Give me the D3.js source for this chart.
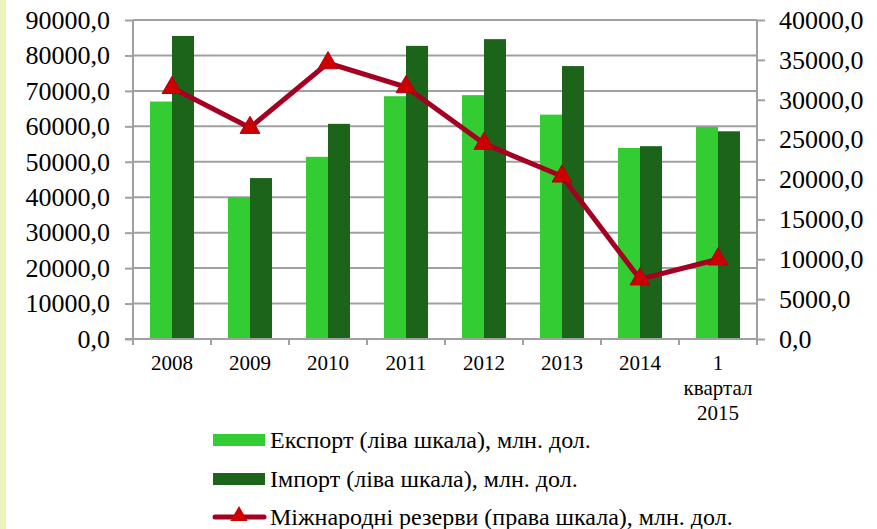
<!DOCTYPE html>
<html lang="uk">
<head>
    <meta charset="UTF-8">
    <title>Експорт, імпорт та міжнародні резерви</title>
    <script src="https://d3js.org/d3.v7.min.js"></script>
    <style>
        body { margin: 0; background: #fff; }
        svg text { font-family: "Liberation Serif", serif; fill: #000; }
        .grid line { stroke: #a0a0a0; stroke-width: 2px; }
        .axis path, .axis line { stroke: #a0a0a0; stroke-width: 2px; fill: none; }
    </style>
</head>
<body>
<svg width="877" height="529"></svg>
<script>
    // Data
    const categories = ["2008", "2009", "2010", "2011", "2012", "2013", "2014", "1\nквартал\n2015"];
    const exportVals = [67000, 40000, 51400, 68500, 68800, 63300, 53900, 59800];
    const importVals = [85500, 45400, 60700, 82700, 84600, 77000, 54400, 58600];
    const reserves = [31500, 26500, 34600, 31600, 24500, 20400, 7500, 10000];
    const leftTicks = [0, 10000, 20000, 30000, 40000, 50000, 60000, 70000, 80000, 90000];
    const rightTicks = [0, 5000, 10000, 15000, 20000, 25000, 30000, 35000, 40000];
    const legendLabels = [
        "Експорт (ліва шкала), млн. дол.",
        "Імпорт (ліва шкала), млн. дол.",
        "Міжнародні резерви (права шкала), млн. дол."
    ];

    const colExport = "#33cc33", colImport = "#1b6419", colLine = "#a50021", colMarker = "#cc0000";
    const serif = '"Liberation Serif", serif';

    const svg = d3.select("svg");

    // yellow strip on the left edge
    svg.append("rect").attr("x", 0).attr("y", 0).attr("width", 6).attr("height", 529).attr("fill", "#edf3bc");

    const pLeft = 133, pRight = 757, pTop = 20, pBottom = 339;

    const x = d3.scaleBand().domain(categories).range([pLeft, pRight]);
    const yL = d3.scaleLinear().domain([0, 90000]).range([pBottom, pTop]);
    const yR = d3.scaleLinear().domain([0, 40000]).range([pBottom, pTop]);
    const fmt = d => d3.format(".1f")(d).replace(".", ",");

    // gridlines
    svg.append("g").attr("class", "grid")
        .selectAll("line").data(leftTicks.filter(d => d > 0)).join("line")
        .attr("x1", pLeft).attr("x2", pRight)
        .attr("y1", d => yL(d)).attr("y2", d => yL(d));

    // bars
    const barW = 22;
    const g = svg.append("g");
    g.selectAll(".exp").data(categories).join("rect")
        .attr("x", d => x(d) + x.bandwidth() / 2 - barW)
        .attr("y", (d, i) => yL(exportVals[i]))
        .attr("width", barW)
        .attr("height", (d, i) => yL(0) - yL(exportVals[i]))
        .attr("fill", colExport);
    g.selectAll(".imp").data(categories).join("rect")
        .attr("x", d => x(d) + x.bandwidth() / 2)
        .attr("y", (d, i) => yL(importVals[i]))
        .attr("width", barW)
        .attr("height", (d, i) => yL(0) - yL(importVals[i]))
        .attr("fill", colImport);

    // left axis
    const axL = svg.append("g").attr("class", "axis")
        .attr("transform", "translate(" + pLeft + ",0)")
        .call(d3.axisLeft(yL).tickValues(leftTicks).tickFormat(fmt).tickSizeOuter(0).tickSize(8).tickPadding(15));
    axL.selectAll("text").style("font-family", serif).style("font-size", "26px");
    axL.select("path").attr("d", "M0," + pTop + "V" + (pBottom + 6));

    // right axis
    const axR = svg.append("g").attr("class", "axis")
        .attr("transform", "translate(" + pRight + ",0)")
        .call(d3.axisRight(yR).tickValues(rightTicks).tickFormat(fmt).tickSizeOuter(0).tickSize(8).tickPadding(14));
    axR.selectAll("text").style("font-family", serif).style("font-size", "26px");
    axR.select("path").attr("d", "M0," + pTop + "V" + (pBottom + 6));

    // bottom axis
    const axB = svg.append("g").attr("class", "axis")
        .attr("transform", "translate(0," + pBottom + ")");
    axB.append("line").attr("x1", pLeft - 8).attr("x2", pRight).attr("y1", 0).attr("y2", 0);
    axB.selectAll(".tk").data(categories.concat([null])).join("line")
        .attr("x1", (d, i) => pLeft + i * x.step()).attr("x2", (d, i) => pLeft + i * x.step())
        .attr("y1", 0).attr("y2", 6);
    axB.selectAll(".lbl").data(categories).join("text")
        .attr("text-anchor", "middle")
        .style("font-family", serif)
        .style("font-size", "21px")
        .attr("transform", d => "translate(" + (x(d) + x.bandwidth() / 2) + ",31)")
        .each(function(d) {
            const t = d3.select(this);
            d.split("\n").forEach((s, i) => t.append("tspan").attr("x", 0).attr("y", i * 25).text(s));
        });

    // reserves line
    const line = d3.line()
        .x((d, i) => x(categories[i]) + x.bandwidth() / 2)
        .y(d => yR(d));
    svg.append("path").datum(reserves)
        .attr("d", line)
        .attr("fill", "none")
        .attr("stroke", colLine)
        .attr("stroke-width", 5);
    const tri = d3.symbol().type(d3.symbolTriangle).size(170);
    svg.selectAll(".mk").data(reserves).join("path")
        .attr("d", tri)
        .attr("transform", (d, i) => "translate(" + (x(categories[i]) + x.bandwidth() / 2) + "," + yR(d) + ")")
        .attr("fill", colMarker)
        .attr("stroke", "#b00010")
        .attr("stroke-width", 1);

    // legend
    const lg = svg.append("g").attr("transform", "translate(213,0)");
    const rowsY = [440, 479, 517];
    lg.append("rect").attr("x", 0).attr("y", rowsY[0] - 6).attr("width", 52).attr("height", 12).attr("fill", colExport);
    lg.append("rect").attr("x", 0).attr("y", rowsY[1] - 6).attr("width", 52).attr("height", 12).attr("fill", colImport);
    lg.append("line").attr("x1", 2).attr("x2", 51).attr("y1", rowsY[2]).attr("y2", rowsY[2])
        .attr("stroke", colLine).attr("stroke-width", 5).attr("stroke-linecap", "round");
    lg.append("path").attr("d", d3.symbol().type(d3.symbolTriangle).size(130))
        .attr("transform", "translate(26," + (rowsY[2] - 1) + ")")
        .attr("fill", colMarker);
    lg.selectAll("text").data(legendLabels).join("text")
        .attr("x", 57)
        .attr("y", (d, i) => rowsY[i])
        .attr("dy", "0.35em")
        .style("font-family", serif)
        .style("font-size", "24px")
        .text(d => d);
</script>
</body>
</html>
